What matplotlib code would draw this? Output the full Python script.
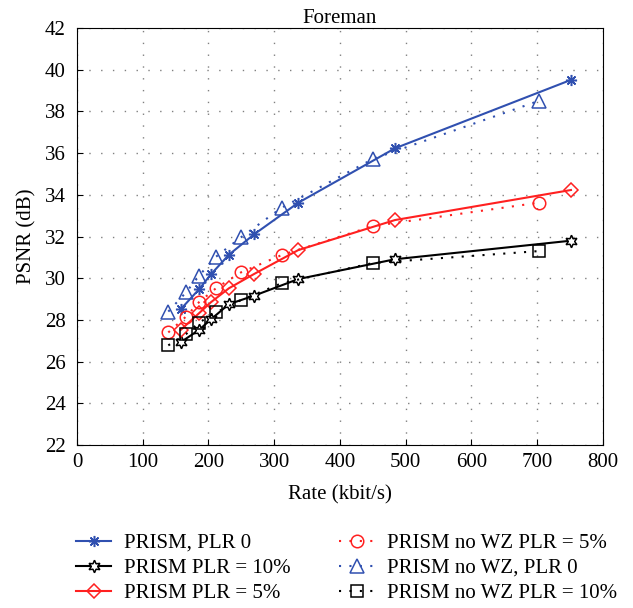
import numpy as np
import matplotlib.pyplot as plt

plt.rcParams['font.family'] = ['Liberation Serif', 'DejaVu Serif']

# rates (kbit/s)
rate_prism = [157.7, 185.6, 203.8, 231.2, 269.2, 336.6, 483.7, 751.3]
rate_nowz = [138.9, 165.8, 185.6, 211.4, 249.4, 311.3, 450.2, 702.0]

# PSNR (dB)
prism_plr0 = [28.51, 29.47, 30.19, 31.13, 32.10, 33.62, 36.23, 39.51]
prism_plr10 = [26.93, 27.52, 28.03, 28.76, 29.16, 29.96, 30.91, 31.80]
prism_plr5 = [27.52, 28.32, 28.85, 29.52, 30.20, 31.35, 32.79, 34.23]
nowz_plr5 = [27.40, 28.16, 28.85, 29.52, 30.28, 31.11, 32.50, 33.62]
nowz_plr0 = [28.40, 29.32, 30.12, 31.03, 31.96, 33.38, 35.72, 38.50]
nowz_plr10 = [26.78, 27.32, 27.87, 28.36, 28.95, 29.76, 30.73, 31.30]

xticks = np.arange(0, 801, 100)
yticks = np.arange(22, 43, 2)

blue = '#3050b0'
red = '#ff2020'
fs = 15

fig = plt.figure(figsize=(6.33, 6.08), dpi=100)
ax = fig.add_axes([0.1216, 0.268, 0.831, 0.686])

ms = 8
ax.plot(rate_prism, prism_plr0, '-', color=blue, marker=(8, 2, 0), ms=ms, mew=1.1,
        label='PRISM, PLR 0')
ax.plot(rate_prism, prism_plr10, '-', color='black', marker=(6, 1, 0), ms=ms + 1, mfc='white',
        mew=1.1, label='PRISM PLR = 10%')
ax.plot(rate_prism, prism_plr5, '-', color=red, marker='D', ms=ms - 1, mfc='none',
        mew=1.1, label='PRISM PLR = 5%')
ax.plot(rate_nowz, nowz_plr5, color=red, ls=(0, (1, 4)), marker='o', ms=ms + 1, mfc='none',
        mew=1.1, label='PRISM no WZ PLR = 5%')
ax.plot(rate_nowz, nowz_plr0, color=blue, ls=(0, (1, 4)), marker='^', ms=ms + 2, mfc='none',
        mew=1.1, label='PRISM no WZ, PLR 0')
ax.plot(rate_nowz, nowz_plr10, color='black', ls=(0, (1, 4)), marker='s', ms=ms, mfc='none',
        mew=1.1, label='PRISM no WZ PLR = 10%')

ax.set_xlim(0, 800)
ax.set_ylim(22, 42)
ax.set_xticks(xticks)
ax.set_yticks(yticks)
ax.tick_params(direction='in', labelsize=fs, top=False, right=False, length=4)
ax.tick_params(axis='x', pad=6)
ax.tick_params(axis='y', pad=8)
ax.grid(True, color='#808080', ls=(0, (1, 7.5)), lw=1.0)
ax.set_xlabel('Rate (kbit/s)', fontsize=fs, labelpad=9)
ax.set_ylabel('PSNR (dB)', fontsize=fs, labelpad=6)
ax.set_title('Foreman', fontsize=fs, pad=3)

handles, labels = ax.get_legend_handles_labels()
fig.legend(handles, labels, ncol=2, loc='upper left', bbox_to_anchor=(0.12, 0.123),
           frameon=False, fontsize=fs, handlelength=1.7, columnspacing=2.3,
           labelspacing=0.27, handletextpad=0.62, borderpad=0, borderaxespad=0)

fig.savefig('out.png', dpi=100)
